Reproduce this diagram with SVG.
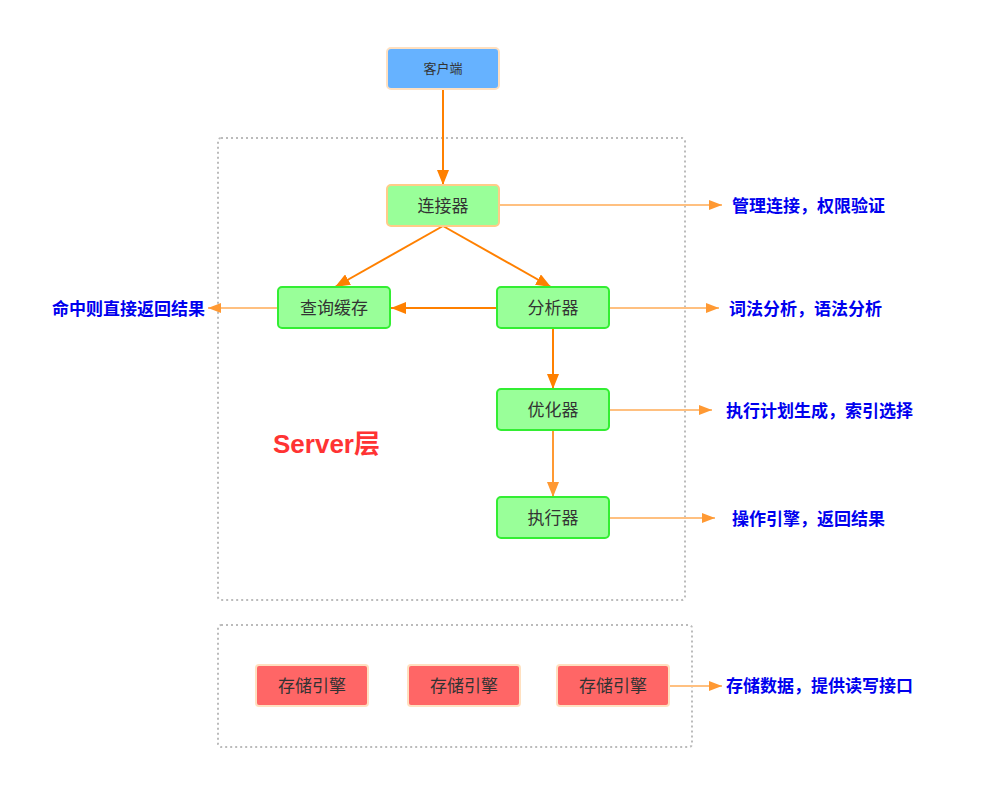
<svg xmlns="http://www.w3.org/2000/svg" width="998" height="809" viewBox="0 0 998 809">
<defs>
<style>
.grp{fill:none;stroke:#bbbbbb;stroke-width:2;stroke-dasharray:2 3;}
.node text{font-family:"Noto Sans CJK SC","Liberation Sans",sans-serif;font-size:17px;fill:#333333;text-anchor:middle;}
.g rect{fill:#99ff99;stroke:#33ee33;stroke-width:2;}
.r rect{fill:#ff6666;stroke:#ffe0c0;stroke-width:2;}
.note{font-family:"Noto Sans CJK SC","Liberation Sans",sans-serif;font-size:17px;font-weight:bold;fill:#0000ee;}
.main{stroke:#ff8000;stroke-width:2;fill:none;}
.main2{stroke:#ff9933;stroke-width:2;fill:none;}
.anno{stroke:#ffc080;stroke-width:2;fill:none;}
</style>
<marker id="ah" markerUnits="userSpaceOnUse" markerWidth="16" markerHeight="12" refX="15" refY="6" orient="auto"><path d="M0,0 L15,6 L0,12 Z" fill="#ff8000"/></marker>
<marker id="ah2" markerUnits="userSpaceOnUse" markerWidth="16" markerHeight="12" refX="15" refY="6" orient="auto"><path d="M0,0 L15,6 L0,12 Z" fill="#ff9933"/></marker>
<marker id="ah3" markerUnits="userSpaceOnUse" markerWidth="14" markerHeight="10" refX="13" refY="5" orient="auto"><path d="M0,0 L13,5 L0,10 Z" fill="#ff9933"/></marker>
</defs>
<rect width="998" height="809" fill="#ffffff"/>
<g id="server-layer">
<rect class="grp" x="218" y="138" width="467" height="462" rx="3"/>
<text x="273" y="453" font-family="'Liberation Sans','Noto Sans CJK SC',sans-serif" font-size="26" font-weight="bold" fill="#ff3333">Server层</text>
</g>
<g id="storage-layer">
<rect class="grp" x="218" y="625" width="474" height="122" rx="3"/>
</g>
<g id="connectors">
<line class="main" x1="443" y1="89" x2="443" y2="185" marker-end="url(#ah)"/>
<line class="main" x1="443" y1="226" x2="335" y2="287" marker-end="url(#ah)"/>
<line class="main" x1="443" y1="226" x2="551" y2="287" marker-end="url(#ah)"/>
<line class="main" x1="497" y1="308" x2="391" y2="308" marker-end="url(#ah)"/>
<line class="main" x1="553" y1="328" x2="553" y2="389" marker-end="url(#ah)"/>
<line class="main2" x1="553" y1="430" x2="553" y2="497" marker-end="url(#ah2)"/>
<line class="anno" x1="499" y1="205" x2="722" y2="205" marker-end="url(#ah3)"/>
<line class="anno" x1="609" y1="308" x2="719" y2="308" marker-end="url(#ah3)"/>
<line class="anno" x1="609" y1="410" x2="712" y2="410" marker-end="url(#ah3)"/>
<line class="anno" x1="609" y1="518" x2="715" y2="518" marker-end="url(#ah3)"/>
<line class="anno" x1="669" y1="686" x2="722" y2="686" marker-end="url(#ah3)"/>
<line class="anno" x1="278" y1="308" x2="208" y2="308" marker-end="url(#ah3)"/>
</g>
<g id="client" class="node">
<rect x="387" y="48" width="112" height="41" rx="4" fill="#66b2ff" stroke="#ffe0c0" stroke-width="2"/>
<text x="443" y="73" style="font-size:13px">客户端</text>
</g>
<g id="connector" class="node">
<rect x="387" y="185" width="112" height="41" rx="4" fill="#99ff99" stroke="#ffcc88" stroke-width="2"/>
<text x="443" y="212">连接器</text>
</g>
<g id="query-cache" class="node g">
<rect x="278" y="287" width="112" height="41" rx="4"/>
<text x="334" y="314">查询缓存</text>
</g>
<g id="analyzer" class="node g">
<rect x="497" y="287" width="112" height="41" rx="4"/>
<text x="553" y="314">分析器</text>
</g>
<g id="optimizer" class="node g">
<rect x="497" y="389" width="112" height="41" rx="4"/>
<text x="553" y="416">优化器</text>
</g>
<g id="executor" class="node g">
<rect x="497" y="497" width="112" height="41" rx="4"/>
<text x="553" y="524">执行器</text>
</g>
<g id="engine1" class="node r">
<rect x="256" y="665" width="112" height="41" rx="3"/>
<text x="312" y="692">存储引擎</text>
</g>
<g id="engine2" class="node r">
<rect x="408" y="665" width="112" height="41" rx="3"/>
<text x="464" y="692">存储引擎</text>
</g>
<g id="engine3" class="node r">
<rect x="557" y="665" width="112" height="41" rx="3"/>
<text x="613" y="692">存储引擎</text>
</g>
<g id="notes">
<text class="note" x="732" y="212">管理连接，权限验证</text>
<text class="note" x="729" y="315">词法分析，语法分析</text>
<text class="note" x="726" y="417">执行计划生成，索引选择</text>
<text class="note" x="732" y="525">操作引擎，返回结果</text>
<text class="note" x="726" y="692">存储数据，提供读写接口</text>
<text class="note" x="205" y="315" text-anchor="end">命中则直接返回结果</text>
</g>
</svg>
